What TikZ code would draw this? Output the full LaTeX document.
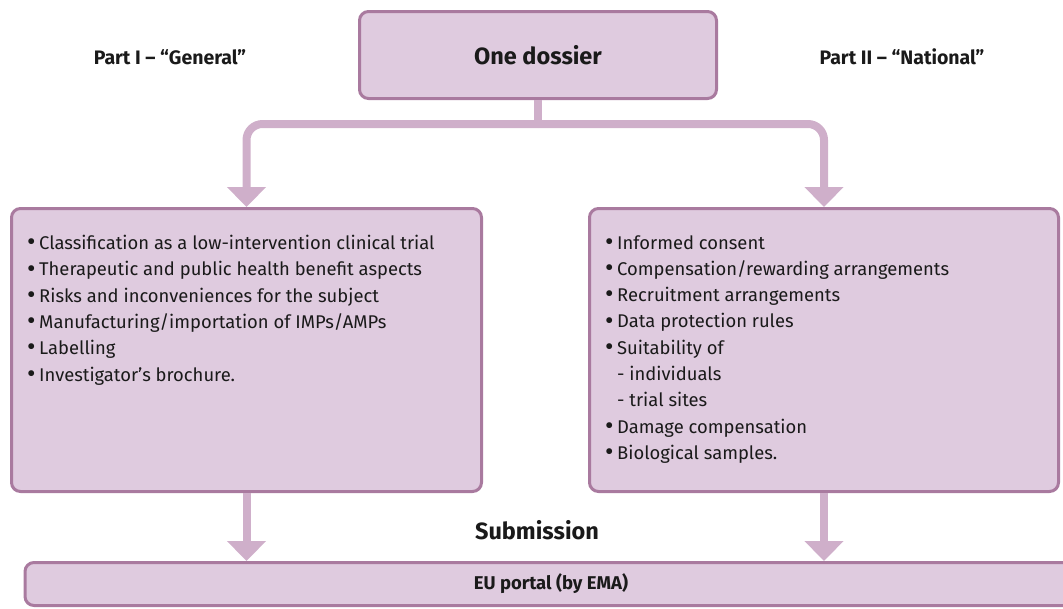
\documentclass[tikz,border=0pt]{standalone}
\usepackage{fontspec}
\setmainfont{Fira Sans}
\usetikzlibrary{arrows.meta,calc}
\definecolor{boxfill}{HTML}{DFCBDF}
\definecolor{boxline}{HTML}{A97A9F}
\definecolor{connc}{HTML}{CFAFCA}
\definecolor{txt}{HTML}{1A1A1A}
\newcommand{\mybul}{\makebox[12pt][l]{\raisebox{-1.2pt}{\fontsize{26}{26.3}\selectfont•}}}
\begin{document}
\begin{tikzpicture}[x=1pt,y=-1pt,
  box/.style={draw=boxline, fill=boxfill, line width=3pt, rounded corners=9pt, text=txt},
  connline/.style={draw=connc, line width=8pt},
  tiphead/.style={-{Triangle[width=38pt,length=20pt]}},
  items/.style={font=\fontsize{18.4}{26.3}\selectfont, align=left, inner sep=0pt, anchor=north west, text=txt},
  lbl/.style={font=\bfseries\fontsize{19.5}{22}\selectfont, text=txt}]
\useasboundingbox (0,0) rectangle (1063,608);
\clip (0,0) rectangle (1063,608);
% boxes
\node[box, minimum width=357pt, minimum height=87pt, font=\bfseries\fontsize{23.5}{26}\selectfont] (top) at (538,55) {One dossier};
\node[box, minimum width=470pt, minimum height=283pt] (left) at (246.5,350) {};
\node[box, minimum width=469pt, minimum height=283pt] (right) at (824,350) {};
\node[box, minimum width=1052pt, minimum height=43pt, font=\bfseries\fontsize{18.5}{21}\selectfont] (portal) at (551,584) {EU portal (by EMA)};
% labels
\node[lbl] (p1) at (170,57) {Part I – “General”};
\node[lbl] (p2) at (902,57) {Part II – “National”};
\node[font=\bfseries\fontsize{23.5}{26}\selectfont, text=txt] (sub) at (537,530) {Submission};
% lists
\node[items] (l1) at (27,235) {\mybul Classification as a low-intervention clinical trial\\
\mybul Therapeutic and public health benefit aspects\\
\mybul Risks and inconveniences for the subject\\
\mybul Manufacturing/importation of IMPs/AMPs\\
\mybul Labelling\\
\mybul Investigator’s brochure.};
\node[items] (l2) at (605,235) {\mybul Informed consent\\
\mybul Compensation/rewarding arrangements\\
\mybul Recruitment arrangements\\
\mybul Data protection rules\\
\mybul Suitability of\\
\hspace{12pt}- individuals\\
\hspace{12pt}- trial sites\\
\mybul Damage compensation\\
\mybul Biological samples.};
% connectors
\coordinate (bar) at (538,124);
\draw[connline] (top.south) -- (bar);
\draw[connline, tiphead, rounded corners=16pt] (bar) -| (left.north);
\draw[connline, tiphead, rounded corners=16pt] (bar) -| (right.north);
\draw[connline, tiphead] (left.south) -- (left.south |- portal.north);
\draw[connline, tiphead] (right.south) -- (right.south |- portal.north);
\end{tikzpicture}
\end{document}
